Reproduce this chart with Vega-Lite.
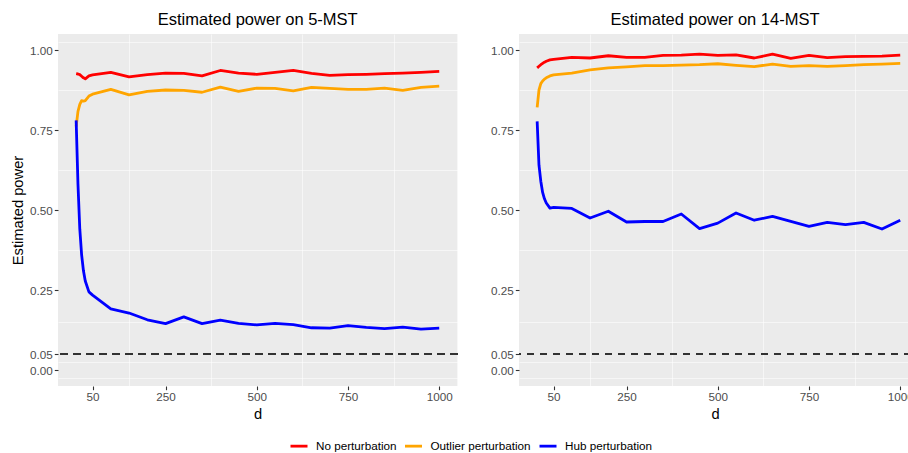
{
  "$schema": "https://vega.github.io/schema/vega-lite/v6.json",
  "padding": {"left": 10, "top": 11, "right": 0, "bottom": 0},
  "autosize": {"type": "pad"},
  "background": "#FFFFFF",
  "config": {
    "font": "Liberation Sans",
    "view": {"fill": "#EBEBEB", "stroke": null},
    "concat": {"spacing": 31},
    "axis": {
      "domain": false,
      "grid": true,
      "gridColor": "#FFFFFF",
      "gridWidth": 1.1,
      "tickColor": "#333333",
      "tickSize": 3.7,
      "tickWidth": 1.1,
      "labelColor": "#4D4D4D",
      "labelFont": "Liberation Sans",
      "labelFontSize": 11.7,
      "labelPadding": 2,
      "titleFont": "Liberation Sans",
      "titleFontSize": 14.7,
      "titleFontWeight": "normal",
      "titleColor": "#000000"
    },
    "line": {"strokeWidth": 2.8, "strokeJoin": "round", "strokeCap": "butt"}
  },
  "data": {"values": [
    {"panel":"5-MST","method":"No perturbation","d":5,"power":0.926},
    {"panel":"5-MST","method":"No perturbation","d":10,"power":0.925},
    {"panel":"5-MST","method":"No perturbation","d":15,"power":0.923},
    {"panel":"5-MST","method":"No perturbation","d":20,"power":0.918},
    {"panel":"5-MST","method":"No perturbation","d":25,"power":0.913},
    {"panel":"5-MST","method":"No perturbation","d":30,"power":0.910},
    {"panel":"5-MST","method":"No perturbation","d":40,"power":0.919},
    {"panel":"5-MST","method":"No perturbation","d":50,"power":0.922},
    {"panel":"5-MST","method":"No perturbation","d":100,"power":0.930},
    {"panel":"5-MST","method":"No perturbation","d":150,"power":0.916},
    {"panel":"5-MST","method":"No perturbation","d":200,"power":0.923},
    {"panel":"5-MST","method":"No perturbation","d":250,"power":0.928},
    {"panel":"5-MST","method":"No perturbation","d":300,"power":0.927},
    {"panel":"5-MST","method":"No perturbation","d":350,"power":0.919},
    {"panel":"5-MST","method":"No perturbation","d":400,"power":0.936},
    {"panel":"5-MST","method":"No perturbation","d":450,"power":0.928},
    {"panel":"5-MST","method":"No perturbation","d":500,"power":0.924},
    {"panel":"5-MST","method":"No perturbation","d":550,"power":0.930},
    {"panel":"5-MST","method":"No perturbation","d":600,"power":0.936},
    {"panel":"5-MST","method":"No perturbation","d":650,"power":0.927},
    {"panel":"5-MST","method":"No perturbation","d":700,"power":0.921},
    {"panel":"5-MST","method":"No perturbation","d":750,"power":0.923},
    {"panel":"5-MST","method":"No perturbation","d":800,"power":0.924},
    {"panel":"5-MST","method":"No perturbation","d":850,"power":0.926},
    {"panel":"5-MST","method":"No perturbation","d":900,"power":0.928},
    {"panel":"5-MST","method":"No perturbation","d":950,"power":0.930},
    {"panel":"5-MST","method":"No perturbation","d":1000,"power":0.933},
    {"panel":"5-MST","method":"Outlier perturbation","d":5,"power":0.761},
    {"panel":"5-MST","method":"Outlier perturbation","d":10,"power":0.808},
    {"panel":"5-MST","method":"Outlier perturbation","d":15,"power":0.830},
    {"panel":"5-MST","method":"Outlier perturbation","d":20,"power":0.842},
    {"panel":"5-MST","method":"Outlier perturbation","d":25,"power":0.840},
    {"panel":"5-MST","method":"Outlier perturbation","d":30,"power":0.842},
    {"panel":"5-MST","method":"Outlier perturbation","d":40,"power":0.856},
    {"panel":"5-MST","method":"Outlier perturbation","d":50,"power":0.862},
    {"panel":"5-MST","method":"Outlier perturbation","d":100,"power":0.877},
    {"panel":"5-MST","method":"Outlier perturbation","d":150,"power":0.860},
    {"panel":"5-MST","method":"Outlier perturbation","d":200,"power":0.871},
    {"panel":"5-MST","method":"Outlier perturbation","d":250,"power":0.875},
    {"panel":"5-MST","method":"Outlier perturbation","d":300,"power":0.874},
    {"panel":"5-MST","method":"Outlier perturbation","d":350,"power":0.868},
    {"panel":"5-MST","method":"Outlier perturbation","d":400,"power":0.884},
    {"panel":"5-MST","method":"Outlier perturbation","d":450,"power":0.871},
    {"panel":"5-MST","method":"Outlier perturbation","d":500,"power":0.881},
    {"panel":"5-MST","method":"Outlier perturbation","d":550,"power":0.880},
    {"panel":"5-MST","method":"Outlier perturbation","d":600,"power":0.872},
    {"panel":"5-MST","method":"Outlier perturbation","d":650,"power":0.883},
    {"panel":"5-MST","method":"Outlier perturbation","d":700,"power":0.880},
    {"panel":"5-MST","method":"Outlier perturbation","d":750,"power":0.877},
    {"panel":"5-MST","method":"Outlier perturbation","d":800,"power":0.877},
    {"panel":"5-MST","method":"Outlier perturbation","d":850,"power":0.881},
    {"panel":"5-MST","method":"Outlier perturbation","d":900,"power":0.874},
    {"panel":"5-MST","method":"Outlier perturbation","d":950,"power":0.883},
    {"panel":"5-MST","method":"Outlier perturbation","d":1000,"power":0.887},
    {"panel":"5-MST","method":"Hub perturbation","d":5,"power":0.780},
    {"panel":"5-MST","method":"Hub perturbation","d":10,"power":0.580},
    {"panel":"5-MST","method":"Hub perturbation","d":15,"power":0.440},
    {"panel":"5-MST","method":"Hub perturbation","d":20,"power":0.360},
    {"panel":"5-MST","method":"Hub perturbation","d":25,"power":0.310},
    {"panel":"5-MST","method":"Hub perturbation","d":30,"power":0.278},
    {"panel":"5-MST","method":"Hub perturbation","d":40,"power":0.244},
    {"panel":"5-MST","method":"Hub perturbation","d":50,"power":0.234},
    {"panel":"5-MST","method":"Hub perturbation","d":100,"power":0.191},
    {"panel":"5-MST","method":"Hub perturbation","d":150,"power":0.178},
    {"panel":"5-MST","method":"Hub perturbation","d":200,"power":0.157},
    {"panel":"5-MST","method":"Hub perturbation","d":250,"power":0.145},
    {"panel":"5-MST","method":"Hub perturbation","d":300,"power":0.166},
    {"panel":"5-MST","method":"Hub perturbation","d":350,"power":0.145},
    {"panel":"5-MST","method":"Hub perturbation","d":400,"power":0.156},
    {"panel":"5-MST","method":"Hub perturbation","d":450,"power":0.146},
    {"panel":"5-MST","method":"Hub perturbation","d":500,"power":0.141},
    {"panel":"5-MST","method":"Hub perturbation","d":550,"power":0.146},
    {"panel":"5-MST","method":"Hub perturbation","d":600,"power":0.142},
    {"panel":"5-MST","method":"Hub perturbation","d":650,"power":0.132},
    {"panel":"5-MST","method":"Hub perturbation","d":700,"power":0.131},
    {"panel":"5-MST","method":"Hub perturbation","d":750,"power":0.139},
    {"panel":"5-MST","method":"Hub perturbation","d":800,"power":0.133},
    {"panel":"5-MST","method":"Hub perturbation","d":850,"power":0.129},
    {"panel":"5-MST","method":"Hub perturbation","d":900,"power":0.134},
    {"panel":"5-MST","method":"Hub perturbation","d":950,"power":0.128},
    {"panel":"5-MST","method":"Hub perturbation","d":1000,"power":0.131},
    {"panel":"14-MST","method":"No perturbation","d":5,"power":0.944},
    {"panel":"14-MST","method":"No perturbation","d":10,"power":0.949},
    {"panel":"14-MST","method":"No perturbation","d":15,"power":0.954},
    {"panel":"14-MST","method":"No perturbation","d":20,"power":0.958},
    {"panel":"14-MST","method":"No perturbation","d":25,"power":0.962},
    {"panel":"14-MST","method":"No perturbation","d":30,"power":0.965},
    {"panel":"14-MST","method":"No perturbation","d":40,"power":0.969},
    {"panel":"14-MST","method":"No perturbation","d":50,"power":0.971},
    {"panel":"14-MST","method":"No perturbation","d":100,"power":0.977},
    {"panel":"14-MST","method":"No perturbation","d":150,"power":0.975},
    {"panel":"14-MST","method":"No perturbation","d":200,"power":0.982},
    {"panel":"14-MST","method":"No perturbation","d":250,"power":0.977},
    {"panel":"14-MST","method":"No perturbation","d":300,"power":0.977},
    {"panel":"14-MST","method":"No perturbation","d":350,"power":0.983},
    {"panel":"14-MST","method":"No perturbation","d":400,"power":0.984},
    {"panel":"14-MST","method":"No perturbation","d":450,"power":0.987},
    {"panel":"14-MST","method":"No perturbation","d":500,"power":0.983},
    {"panel":"14-MST","method":"No perturbation","d":550,"power":0.985},
    {"panel":"14-MST","method":"No perturbation","d":600,"power":0.975},
    {"panel":"14-MST","method":"No perturbation","d":650,"power":0.987},
    {"panel":"14-MST","method":"No perturbation","d":700,"power":0.974},
    {"panel":"14-MST","method":"No perturbation","d":750,"power":0.983},
    {"panel":"14-MST","method":"No perturbation","d":800,"power":0.976},
    {"panel":"14-MST","method":"No perturbation","d":850,"power":0.979},
    {"panel":"14-MST","method":"No perturbation","d":900,"power":0.980},
    {"panel":"14-MST","method":"No perturbation","d":950,"power":0.981},
    {"panel":"14-MST","method":"No perturbation","d":1000,"power":0.984},
    {"panel":"14-MST","method":"Outlier perturbation","d":5,"power":0.821},
    {"panel":"14-MST","method":"Outlier perturbation","d":10,"power":0.875},
    {"panel":"14-MST","method":"Outlier perturbation","d":15,"power":0.895},
    {"panel":"14-MST","method":"Outlier perturbation","d":20,"power":0.903},
    {"panel":"14-MST","method":"Outlier perturbation","d":25,"power":0.909},
    {"panel":"14-MST","method":"Outlier perturbation","d":30,"power":0.913},
    {"panel":"14-MST","method":"Outlier perturbation","d":40,"power":0.919},
    {"panel":"14-MST","method":"Outlier perturbation","d":50,"power":0.922},
    {"panel":"14-MST","method":"Outlier perturbation","d":100,"power":0.928},
    {"panel":"14-MST","method":"Outlier perturbation","d":150,"power":0.938},
    {"panel":"14-MST","method":"Outlier perturbation","d":200,"power":0.944},
    {"panel":"14-MST","method":"Outlier perturbation","d":250,"power":0.947},
    {"panel":"14-MST","method":"Outlier perturbation","d":300,"power":0.951},
    {"panel":"14-MST","method":"Outlier perturbation","d":350,"power":0.951},
    {"panel":"14-MST","method":"Outlier perturbation","d":400,"power":0.953},
    {"panel":"14-MST","method":"Outlier perturbation","d":450,"power":0.954},
    {"panel":"14-MST","method":"Outlier perturbation","d":500,"power":0.957},
    {"panel":"14-MST","method":"Outlier perturbation","d":550,"power":0.952},
    {"panel":"14-MST","method":"Outlier perturbation","d":600,"power":0.948},
    {"panel":"14-MST","method":"Outlier perturbation","d":650,"power":0.956},
    {"panel":"14-MST","method":"Outlier perturbation","d":700,"power":0.949},
    {"panel":"14-MST","method":"Outlier perturbation","d":750,"power":0.951},
    {"panel":"14-MST","method":"Outlier perturbation","d":800,"power":0.949},
    {"panel":"14-MST","method":"Outlier perturbation","d":850,"power":0.951},
    {"panel":"14-MST","method":"Outlier perturbation","d":900,"power":0.954},
    {"panel":"14-MST","method":"Outlier perturbation","d":950,"power":0.956},
    {"panel":"14-MST","method":"Outlier perturbation","d":1000,"power":0.958},
    {"panel":"14-MST","method":"Hub perturbation","d":5,"power":0.777},
    {"panel":"14-MST","method":"Hub perturbation","d":10,"power":0.640},
    {"panel":"14-MST","method":"Hub perturbation","d":15,"power":0.590},
    {"panel":"14-MST","method":"Hub perturbation","d":20,"power":0.555},
    {"panel":"14-MST","method":"Hub perturbation","d":25,"power":0.535},
    {"panel":"14-MST","method":"Hub perturbation","d":30,"power":0.522},
    {"panel":"14-MST","method":"Hub perturbation","d":40,"power":0.506},
    {"panel":"14-MST","method":"Hub perturbation","d":50,"power":0.508},
    {"panel":"14-MST","method":"Hub perturbation","d":100,"power":0.505},
    {"panel":"14-MST","method":"Hub perturbation","d":150,"power":0.475},
    {"panel":"14-MST","method":"Hub perturbation","d":200,"power":0.496},
    {"panel":"14-MST","method":"Hub perturbation","d":250,"power":0.4625},
    {"panel":"14-MST","method":"Hub perturbation","d":300,"power":0.464},
    {"panel":"14-MST","method":"Hub perturbation","d":350,"power":0.464},
    {"panel":"14-MST","method":"Hub perturbation","d":400,"power":0.4875},
    {"panel":"14-MST","method":"Hub perturbation","d":450,"power":0.442},
    {"panel":"14-MST","method":"Hub perturbation","d":500,"power":0.459},
    {"panel":"14-MST","method":"Hub perturbation","d":550,"power":0.4906},
    {"panel":"14-MST","method":"Hub perturbation","d":600,"power":0.468},
    {"panel":"14-MST","method":"Hub perturbation","d":650,"power":0.480},
    {"panel":"14-MST","method":"Hub perturbation","d":700,"power":0.4646},
    {"panel":"14-MST","method":"Hub perturbation","d":750,"power":0.449},
    {"panel":"14-MST","method":"Hub perturbation","d":800,"power":0.4615},
    {"panel":"14-MST","method":"Hub perturbation","d":850,"power":0.454},
    {"panel":"14-MST","method":"Hub perturbation","d":900,"power":0.4615},
    {"panel":"14-MST","method":"Hub perturbation","d":950,"power":0.4406},
    {"panel":"14-MST","method":"Hub perturbation","d":1000,"power":0.468}
  ]},
  "resolve": {"scale": {"color": "shared"}, "legend": {"color": "shared"}},
  "hconcat": [
    {
      "title": {"text": "Estimated power on 5-MST", "fontSize": 16.5, "fontWeight": "normal", "color": "#000000", "anchor": "middle", "frame": "group", "baseline": "bottom", "offset": -10},
      "width": 399.4,
      "height": 352,
      "transform": [{"filter": "datum.panel == '5-MST'"}],
      "resolve": {"axis": {"x": "independent", "y": "independent"}},
      "layer": [
        {
          "mark": {"type": "point", "opacity": 0},
          "encoding": {
            "x": {"field": "d", "type": "quantitative", "scale": {"domain": [-44.75, 1049.75], "nice": false, "zero": false}, "axis": {"orient": "bottom", "values": [150, 375, 625, 875], "grid": true, "gridWidth": 0.55, "labels": false, "ticks": false, "domain": false, "title": null}},
            "y": {"field": "power", "type": "quantitative", "scale": {"domain": [-0.05, 1.05], "nice": false, "zero": false}, "axis": {"orient": "left", "values": [-0.025, 0.025, 0.15, 0.375, 0.625, 0.875, 1.025], "grid": true, "gridWidth": 0.55, "labels": false, "ticks": false, "domain": false, "title": null}}
          }
        },
        {
          "mark": {"type": "line", "clip": true},
          "encoding": {
            "x": {"field": "d", "type": "quantitative", "axis": {"orient": "bottom", "values": [50, 250, 500, 750, 1000], "format": "d", "title": "d", "titlePadding": 3}},
            "y": {"field": "power", "type": "quantitative", "axis": {"orient": "left", "values": [0, 0.05, 0.25, 0.5, 0.75, 1], "format": ".2f", "title": "Estimated power", "titlePadding": 4}},
            "color": {"field": "method", "type": "nominal", "sort": ["No perturbation", "Outlier perturbation", "Hub perturbation"],
              "scale": {"domain": ["No perturbation", "Outlier perturbation", "Hub perturbation"], "range": ["#FF0000", "#FFA500", "#0000FF"]},
              "legend": {"orient": "none", "legendX": 231, "legendY": 402, "direction": "horizontal", "title": null, "symbolType": "stroke", "symbolSize": 289, "symbolStrokeWidth": 2.8, "labelFontSize": 11.7, "labelColor": "#000000", "labelFont": "Liberation Sans", "labelOffset": 7, "columnPadding": 6.5, "padding": 0}}
          }
        },
        {
          "mark": {"type": "rule", "strokeDash": [7, 6], "color": "#333333", "strokeWidth": 1.5},
          "encoding": {"y": {"datum": 0.05, "axis": null}}
        }
      ]
    },
    {
      "title": {"text": "Estimated power on 14-MST", "fontSize": 16.5, "fontWeight": "normal", "color": "#000000", "anchor": "middle", "frame": "group", "baseline": "bottom", "offset": -10},
      "width": 392,
      "height": 352,
      "transform": [{"filter": "datum.panel == '14-MST'"}],
      "resolve": {"axis": {"x": "independent", "y": "independent"}},
      "layer": [
        {
          "mark": {"type": "point", "opacity": 0},
          "encoding": {
            "x": {"field": "d", "type": "quantitative", "scale": {"domain": [-44.75, 1029.5], "nice": false, "zero": false}, "axis": {"orient": "bottom", "values": [150, 375, 625, 875], "grid": true, "gridWidth": 0.55, "labels": false, "ticks": false, "domain": false, "title": null}},
            "y": {"field": "power", "type": "quantitative", "scale": {"domain": [-0.05, 1.05], "nice": false, "zero": false}, "axis": {"orient": "left", "values": [-0.025, 0.025, 0.15, 0.375, 0.625, 0.875, 1.025], "grid": true, "gridWidth": 0.55, "labels": false, "ticks": false, "domain": false, "title": null}}
          }
        },
        {
          "mark": {"type": "line", "clip": true},
          "encoding": {
            "x": {"field": "d", "type": "quantitative", "axis": {"orient": "bottom", "values": [50, 250, 500, 750, 1000], "format": "d", "title": "d", "titlePadding": 3}},
            "y": {"field": "power", "type": "quantitative", "axis": {"orient": "left", "values": [0, 0.05, 0.25, 0.5, 0.75, 1], "format": ".2f", "title": null}},
            "color": {"field": "method", "type": "nominal", "sort": ["No perturbation", "Outlier perturbation", "Hub perturbation"],
              "scale": {"domain": ["No perturbation", "Outlier perturbation", "Hub perturbation"], "range": ["#FF0000", "#FFA500", "#0000FF"]},
              "legend": {"orient": "none", "legendX": 231, "legendY": 402, "direction": "horizontal", "title": null, "symbolType": "stroke", "symbolSize": 289, "symbolStrokeWidth": 2.8, "labelFontSize": 11.7, "labelColor": "#000000", "labelFont": "Liberation Sans", "labelOffset": 7, "columnPadding": 6.5, "padding": 0}}
          }
        },
        {
          "mark": {"type": "rule", "strokeDash": [7, 6], "color": "#333333", "strokeWidth": 1.5},
          "encoding": {"y": {"datum": 0.05, "axis": null}}
        }
      ]
    }
  ]
}
